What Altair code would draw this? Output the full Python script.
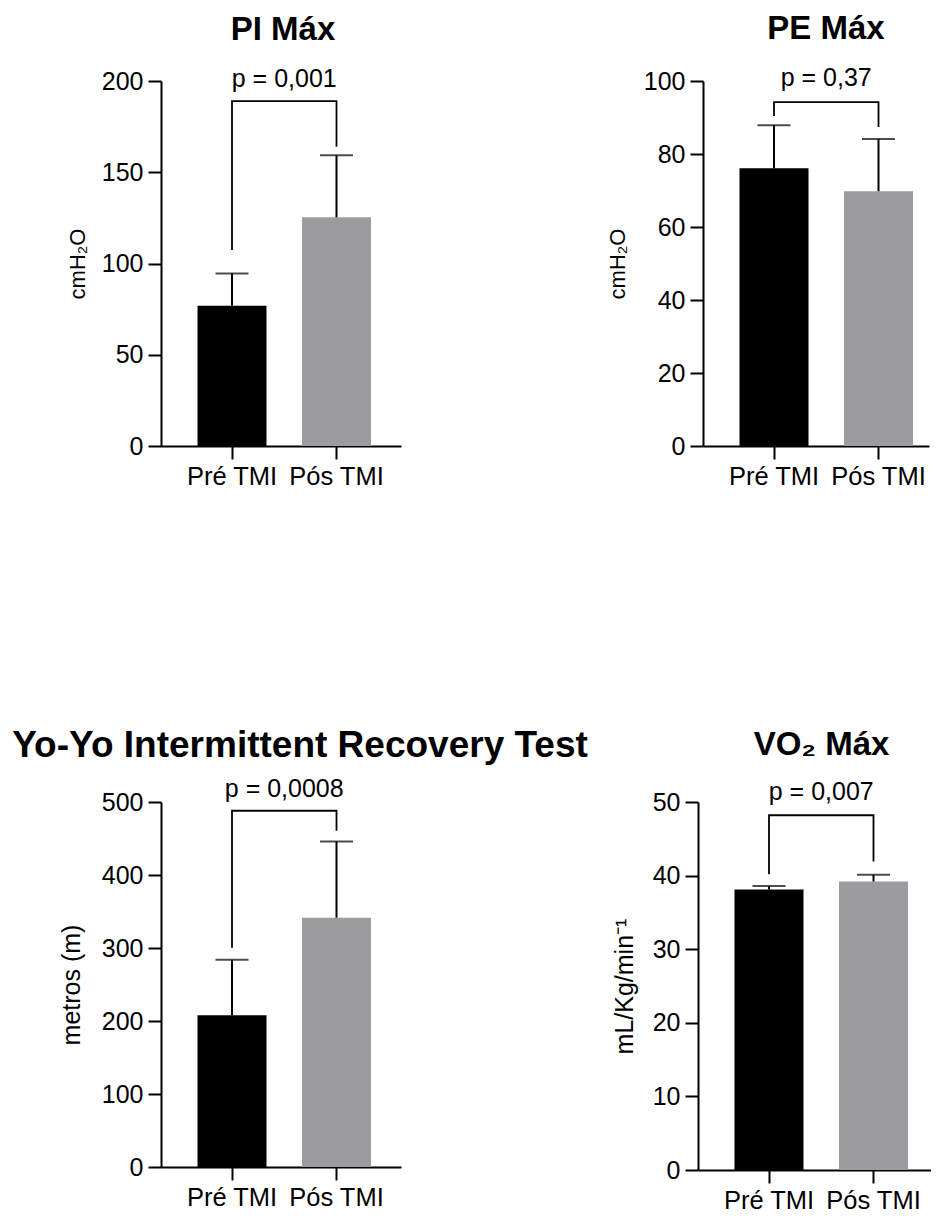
import altair as alt
import pandas as pd

cats = ["Pré TMI", "Pós TMI"]
titles = ["PI Máx", "PE Máx", "Yo-Yo Intermittent Recovery Test", "VO₂ Máx"]
y_titles = ["cmH₂O", "cmH₂O", "metros (m)", "mL/Kg/min⁻¹"]
y_max = [200, 100, 500, 50]
y_step = [50, 20, 100, 10]

pi_mean = [76.9, 125.3]
pi_err = [94.5, 159.3]
pe_mean = [76.1, 69.8]
pe_err = [87.9, 84.1]
yoyo_mean = [208, 341.5]
yoyo_err = [284, 446]
vo2_mean = [38.1, 39.2]
vo2_err = [38.6, 40.1]

p_labels = ["p = 0,001", "p = 0,37", "p = 0,0008", "p = 0,007"]
p_text_y = [196.7, 98.6, 506.8, 50.3]
bracket_top = [189, 94.2, 488, 48.2]
bracket_left = [107.4, 90.4, 300.5, 40.2]
bracket_right = [164, 87.4, 460.7, 41.9]

means = [pi_mean, pe_mean, yoyo_mean, vo2_mean]
errs = [pi_err, pe_err, yoyo_err, vo2_err]

FONT = "Liberation Sans"
GRAY = "#9c9ba0"

# layout / style
widths = [240, 226, 240, 233]
heights = [365, 365, 365, 368]
title_size = [33, 33, 37, 33]
title_dx = [2, 10, 19, 7]
title_offset = [-6, -6, -17, -8]
ytitle_size = [22, 22, 25, 25]
title_pad = [12, 14, 17, 14.5]
STEP = 104.5
BAND = 69
FIRST_CENTER = 71


def panel(i):
    W = widths[i]
    pi_ = (STEP - BAND) / STEP
    excess = W - STEP * (2 - pi_)
    po = excess / (2 * STEP)
    align = (FIRST_CENTER - BAND / 2) / excess
    xscale = alt.Scale(domain=cats, paddingInner=pi_, paddingOuter=po, align=align)
    xenc = alt.X("cat:N", sort=cats, scale=xscale,
                 axis=alt.Axis(title=None, labelAngle=0, labelFontSize=25.5, labelPadding=5))
    xplain = alt.X("cat:N", sort=cats, scale=xscale)
    yscale = alt.Scale(domain=[0, y_max[i]], nice=False)
    yaxis = alt.Axis(title=y_titles[i], values=list(range(0, y_max[i] + 1, y_step[i])),
                     titlePadding=title_pad[i], titleFontSize=ytitle_size[i])

    df = pd.DataFrame({"cat": cats, "mean": means[i], "err": errs[i]})
    bars = alt.Chart(df).mark_bar().encode(
        x=xenc,
        y=alt.Y("mean:Q", scale=yscale, axis=yaxis),
        color=alt.Color("cat:N", scale=alt.Scale(domain=cats, range=["#000000", GRAY]), legend=None),
    )
    rule = alt.Chart(df).mark_rule(color="black", strokeWidth=2).encode(
        x=xplain, y="mean:Q", y2="err:Q")
    cap = alt.Chart(df).mark_tick(color="black", size=33, thickness=2).encode(
        x=xplain, y="err:Q")

    br = pd.DataFrame({
        "cat": [cats[0], cats[0], cats[1], cats[1]],
        "v": [bracket_left[i], bracket_top[i], bracket_top[i], bracket_right[i]],
        "o": [0, 1, 2, 3],
    })
    bracket = alt.Chart(br).mark_line(color="black", strokeWidth=1.8).encode(
        x=xplain, y="v:Q", order="o:O")

    tx = pd.DataFrame({"cat": [cats[0]], "v": [p_text_y[i]], "t": [p_labels[i]]})
    text = alt.Chart(tx).mark_text(dx=STEP / 2, align="center", baseline="alphabetic",
                                   font=FONT, fontSize=25, color="black").encode(
        x=xplain, y="v:Q", text="t:N")

    return alt.layer(bars, rule, cap, bracket, text).properties(
        width=W, height=heights[i],
        title=alt.TitleParams(titles[i], fontSize=title_size[i], font=FONT, fontWeight="bold",
                              anchor="middle", frame="group", baseline="alphabetic",
                              offset=title_offset[i], dx=title_dx[i], color="black"),
    )


row1 = alt.hconcat(panel(0), panel(1), spacing=302, bounds="flush")
row2 = alt.hconcat(panel(2), panel(3), spacing=297, bounds="flush")
chart = alt.vconcat(row1, row2, spacing=802 - 81, bounds="flush").properties(
    padding={"left": 4, "top": 5, "right": 0, "bottom": 0}, background="white"
).configure_view(strokeWidth=0).configure_axis(
    domainColor="black", domainWidth=2, tickColor="black", tickWidth=2, tickSize=13,
    labelFont=FONT, labelFontSize=25, labelColor="black", labelPadding=5, grid=False,
    titleFont=FONT, titleFontSize=22, titleFontWeight="normal", titleColor="black",
)

chart.save("out.html", embed_options={"renderer": "svg", "actions": False})
